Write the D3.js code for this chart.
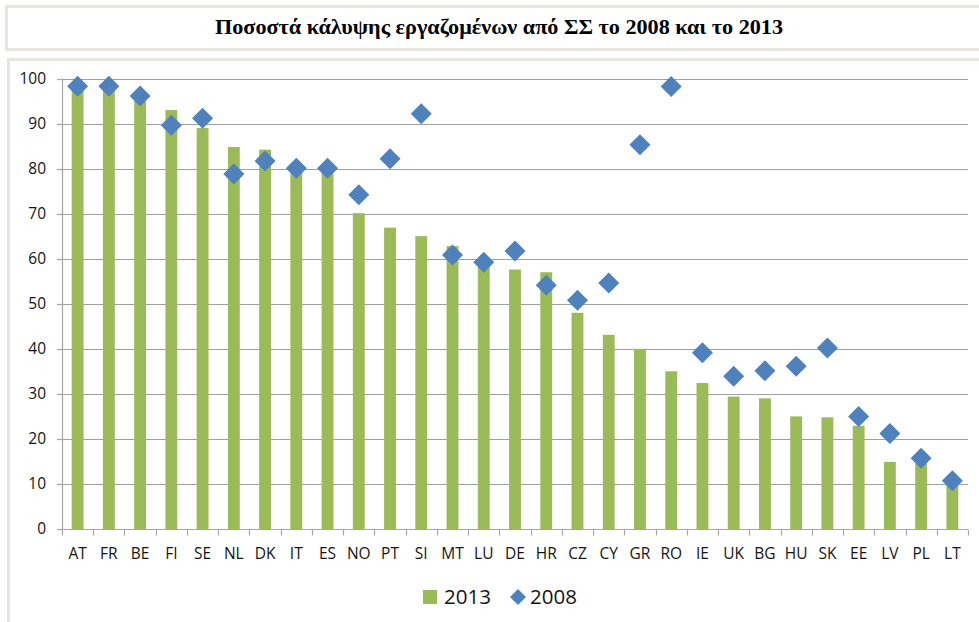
<!DOCTYPE html>
<html>
<head>
<meta charset="utf-8">
<script src="https://cdn.jsdelivr.net/npm/d3@7"></script>
<style>
  body { margin: 0; background: #fff; }
  text { font-family: "Open Sans", sans-serif; fill: #141414; }
</style>
</head>
<body>
<div id="chart-root"></div>
<script>
// data
const countries = ['AT', 'FR', 'BE', 'FI', 'SE', 'NL', 'DK', 'IT', 'ES', 'NO', 'PT', 'SI', 'MT', 'LU', 'DE',
  'HR', 'CZ', 'CY', 'GR', 'RO', 'IE', 'UK', 'BG', 'HU', 'SK', 'EE', 'LV', 'PL', 'LT'];
const values2013 = [98, 97.5, 95, 93, 89, 84.8, 84.2, 79.5, 79.5, 70.1, 66.9, 65, 62.8, 58.8, 57.6,
  57, 48, 43.1, 40, 35, 32.4, 29.4, 29, 25, 24.8, 22.9, 14.9, 14.6, 10];
const values2008 = [98.3, 98.3, 96.1, 89.6, 91.2, 78.8, 81.7, 80.1, 80.1, 74.2, 82.2, 92.2, 60.8, 59.2, 61.7,
  54.1, 50.8, 54.6, 85.3, 98.2, 39.1, 33.9, 35.1, 36.1, 40.2, 25, 21.2, 15.7, 10.7];
const yTicks = [0, 10, 20, 30, 40, 50, 60, 70, 80, 90, 100];
const title = 'Ποσοστά κάλυψης εργαζομένων από ΣΣ το 2008 και το 2013';

const W = 979, H = 622;
const margin = {left: 62, right: 11, top: 78.5, bottom: 93};
const green = '#9bbb59', blue = '#4f81bd', frame = '#e9e6df';

const svg = d3.select('#chart-root').append('svg')
    .attr('width', W).attr('height', H);

// title box and chart box frames
svg.append('rect').attr('x', 6.5).attr('y', 6.5).attr('width', W + 10).attr('height', 43)
    .attr('fill', '#fff').attr('stroke', frame).attr('stroke-width', 3);
svg.append('rect').attr('x', 8.5).attr('y', 59.5).attr('width', W + 10).attr('height', H)
    .attr('fill', '#fff').attr('stroke', frame).attr('stroke-width', 3);

svg.append('text')
    .attr('x', 499).attr('y', 34)
    .attr('text-anchor', 'middle')
    .attr('textLength', 568).attr('lengthAdjust', 'spacingAndGlyphs')
    .style('font-family', '"Liberation Serif", "DejaVu Serif", serif')
    .style('font-weight', 'bold').style('font-size', '20px')
    .style('fill', '#000')
    .text(title);

const x = d3.scaleBand().domain(countries)
    .range([margin.left, W - margin.right]);
const y = d3.scaleLinear().domain([0, 100])
    .range([H - margin.bottom, margin.top]);

// gridlines
svg.append('g').selectAll('line').data(yTicks.filter(d => d > 0)).join('line')
    .attr('x1', margin.left).attr('x2', W - margin.right)
    .attr('y1', d => Math.round(y(d)) + 0.5).attr('y2', d => Math.round(y(d)) + 0.5)
    .attr('stroke', '#9f9f9f').attr('stroke-width', 1.2);

// bars
const bw = x.bandwidth() * 0.38;
svg.append('g').selectAll('rect').data(values2013).join('rect')
    .attr('x', (d, i) => x(countries[i]) + x.bandwidth() / 2 - bw / 2)
    .attr('width', bw)
    .attr('y', d => y(d))
    .attr('height', d => y(0) - y(d))
    .attr('fill', green);

// axes
const xAxis = svg.append('g')
    .attr('transform', `translate(0,${Math.round(y(0)) + 0.5})`);
xAxis.append('line').attr('x1', margin.left - 5).attr('x2', W - margin.right)
    .attr('stroke', '#a6a6a6').attr('stroke-width', 1.2);
const bounds = countries.map(c => x(c)).concat([W - margin.right]);
xAxis.selectAll('line.tick').data(bounds).join('line').attr('class', 'tick')
    .attr('x1', d => Math.round(d) + 0.5).attr('x2', d => Math.round(d) + 0.5)
    .attr('y1', 0).attr('y2', 6)
    .attr('stroke', '#a6a6a6').attr('stroke-width', 1.2);
xAxis.selectAll('text').data(countries).join('text')
    .attr('x', d => x(d) + x.bandwidth() / 2)
    .attr('y', 29)
    .attr('text-anchor', 'middle')
    .style('font-size', '15.5px')
    .text(d => d);

const yAxis = svg.append('g');
yAxis.append('line')
    .attr('x1', margin.left + 0.5).attr('x2', margin.left + 0.5)
    .attr('y1', y(100)).attr('y2', y(0))
    .attr('stroke', '#a6a6a6').attr('stroke-width', 1.2);
yAxis.selectAll('line.tick').data(yTicks).join('line').attr('class', 'tick')
    .attr('x1', margin.left - 5).attr('x2', margin.left)
    .attr('y1', d => Math.round(y(d)) + 0.5).attr('y2', d => Math.round(y(d)) + 0.5)
    .attr('stroke', '#a6a6a6').attr('stroke-width', 1.2);
yAxis.selectAll('text').data(yTicks).join('text')
    .attr('x', 46)
    .attr('y', d => y(d))
    .attr('dy', '0.35em')
    .attr('text-anchor', 'end')
    .style('font-size', '15.5px')
    .text(d => d);

// diamonds
const diamond = r => `M0,${-r}L${r},0L0,${r}L${-r},0Z`;
svg.append('g').selectAll('path').data(values2008).join('path')
    .attr('transform', (d, i) => `translate(${x(countries[i]) + x.bandwidth() / 2},${y(d)})`)
    .attr('d', diamond(10.5))
    .attr('fill', blue);

// legend
const legend = svg.append('g').attr('transform', 'translate(0,597)');
legend.append('rect').attr('x', 423).attr('y', -7).attr('width', 14).attr('height', 14).attr('fill', green);
legend.append('text').attr('x', 444).attr('y', 0).attr('dy', '0.36em')
    .style('font-size', '20.5px').text('2013');
legend.append('path').attr('transform', 'translate(518,0)').attr('d', diamond(8)).attr('fill', blue);
legend.append('text').attr('x', 530).attr('y', 0).attr('dy', '0.36em')
    .style('font-size', '20.5px').text('2008');
</script>
</body>
</html>
